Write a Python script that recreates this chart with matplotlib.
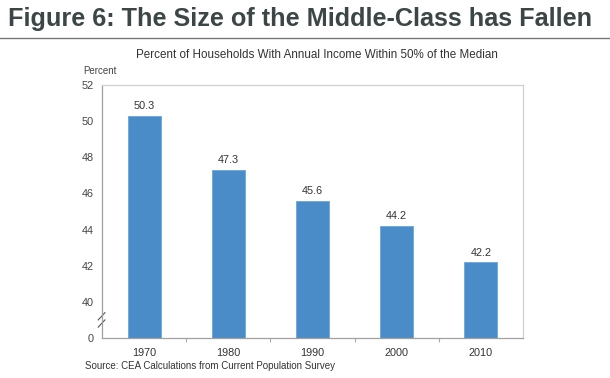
import matplotlib
matplotlib.use("Agg")
import matplotlib.pyplot as plt
from matplotlib.lines import Line2D

years = ["1970", "1980", "1990", "2000", "2010"]
values = [50.3, 47.3, 45.6, 44.2, 42.2]
yticks = [38, 40, 42, 44, 46, 48, 50, 52]
ytick_labels = ["0", "40", "42", "44", "46", "48", "50", "52"]

plt.rcParams['font.family'] = ['Liberation Sans', 'DejaVu Sans']

fig = plt.figure(figsize=(6.1, 3.78), dpi=100)
ax = fig.add_axes([102/610, 1-338/378, (523-102)/610, (338-85)/378])

x = list(range(len(years)))
bars = ax.bar(x, values, width=0.39, color='#4a8cc8', edgecolor='#6aa6da', linewidth=0.6)
for xi, v in zip(x, values):
    ax.text(xi, v + 0.25, f"{v:.1f}", ha='center', va='bottom', fontsize=7.8, color='#333333')

ax.set_xlim(-0.5, len(years) - 0.5)
ax.set_ylim(38, 52)
ax.set_yticks(yticks)
ax.set_yticklabels(ytick_labels)
ax.set_xticks(x)
ax.set_xticklabels(years)
ax.set_xticks([i + 0.5 for i in x[:-1]], minor=True)
ax.tick_params(axis='y', length=0, labelsize=7.8, labelcolor='#444444', pad=6)
ax.tick_params(axis='x', which='major', length=0, labelsize=7.8, labelcolor='#333333', pad=7)
ax.tick_params(axis='x', which='minor', length=3, color='#aaaaaa', width=0.8)

for s in ['top', 'right']:
    ax.spines[s].set_color('#d0d0d0')
    ax.spines[s].set_linewidth(0.9)
for s in ['left', 'bottom']:
    ax.spines[s].set_color('#a0a0a0')
    ax.spines[s].set_linewidth(0.9)

# axis break marks
for dy in (0, 0.4):
    ax.add_line(Line2D([-0.545, -0.465], [38.6 + dy, 39.0 + dy], color='#555555',
                       linewidth=0.8, clip_on=False, transform=ax.transData))

ax.text(-0.005, 1.035, "Percent", transform=ax.transAxes, ha='center', va='bottom',
        fontsize=7, color='#444444')

fig.text(8/610, 1-26/378, "Figure 6: The Size of the Middle-Class has Fallen",
         ha='left', va='baseline', fontsize=18.2, fontweight='bold', color='#3c4646')
fig.add_artist(Line2D([0, 1], [1-38/378, 1-38/378], color='#777777', linewidth=1.0))
fig.text(317/610, 1-58/378, "Percent of Households With Annual Income Within 50% of the Median",
         ha='center', va='baseline', fontsize=8.4, color='#333333')
fig.text(85/610, 1-369/378, "Source: CEA Calculations from Current Population Survey",
         ha='left', va='baseline', fontsize=7, color='#333333')

fig.savefig("out.png", dpi=100)
